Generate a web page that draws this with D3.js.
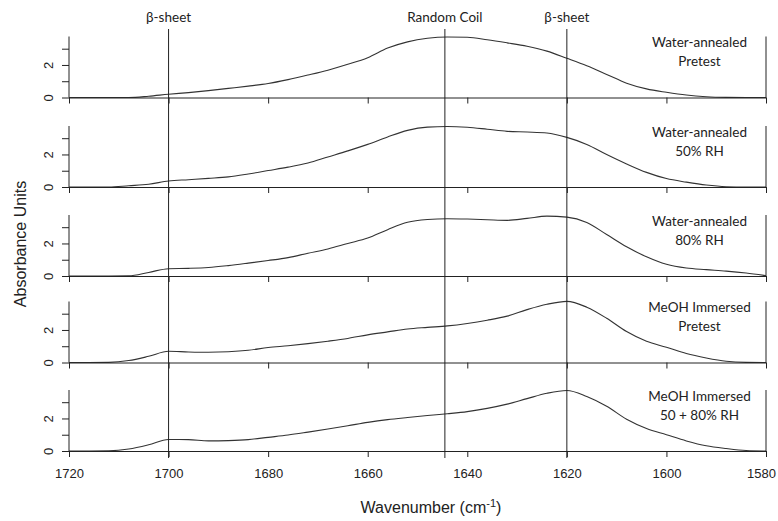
<!DOCTYPE html>
<html>
<head>
<meta charset="utf-8">
<script src="https://cdn.jsdelivr.net/npm/d3@7"></script>
<style>
  html, body { margin: 0; padding: 0; background: #fff; }
  svg { display: block; }
</style>
</head>
<body>
<svg id="chart" width="778" height="521"></svg>
<script>
// ---- data ----
const wavenumbers = [1720,1716,1712,1708,1704,1700,1696,1692,1688,1684,1680,1676,1672,1668,1664,1660,1656,1652,1648,1644,1640,1636,1632,1628,1624,1620,1616,1612,1608,1604,1600,1596,1592,1588,1584,1580];
const waterPretest = [0,0,0,0,0.08,0.2,0.30,0.42,0.56,0.70,0.86,1.10,1.38,1.68,2.04,2.45,3.04,3.42,3.64,3.72,3.70,3.55,3.36,3.15,2.85,2.41,1.95,1.42,0.88,0.53,0.32,0.15,0.05,0.01,0,0];
const water50 = [0,0,0,0.08,0.17,0.37,0.45,0.53,0.62,0.80,1.01,1.22,1.48,1.85,2.22,2.62,3.08,3.48,3.68,3.72,3.67,3.55,3.42,3.38,3.32,3.05,2.62,2.00,1.42,0.90,0.52,0.30,0.12,0.02,0,0];
const water80 = [0,0,0,0.01,0.22,0.45,0.47,0.52,0.64,0.79,0.95,1.13,1.40,1.66,2.00,2.33,2.85,3.30,3.47,3.52,3.50,3.46,3.42,3.54,3.68,3.62,3.29,2.55,1.80,1.18,0.72,0.49,0.39,0.30,0.18,0.02];
const meohPretest = [0,0,0.01,0.12,0.38,0.69,0.65,0.63,0.66,0.75,0.92,1.03,1.16,1.31,1.48,1.70,1.88,2.06,2.16,2.25,2.40,2.60,2.85,3.25,3.58,3.76,3.40,2.72,1.90,1.30,0.94,0.55,0.28,0.08,0.01,0];
const meoh5080 = [0,0,0.01,0.12,0.38,0.71,0.70,0.62,0.64,0.70,0.84,0.98,1.16,1.35,1.55,1.76,1.93,2.06,2.18,2.29,2.42,2.62,2.88,3.22,3.55,3.72,3.35,2.75,1.95,1.38,1.00,0.62,0.32,0.15,0.03,0];
const seriesValues = [waterPretest, water50, water80, meohPretest, meoh5080];
const panelLabels = [
  ["Water-annealed", "Pretest"],
  ["Water-annealed", "50% RH"],
  ["Water-annealed", "80% RH"],
  ["MeOH Immersed", "Pretest"],
  ["MeOH Immersed", "50 + 80% RH"]
];
const markerPositions = [1700, 1644.5, 1620];
const markerLabels = ["β-sheet", "Random Coil", "β-sheet"];
const xTicks = [1720, 1700, 1680, 1660, 1640, 1620, 1600, 1580];
const yTicks = [0, 1, 2, 3];
const yTickLabels = [0, 2];

// ---- layout ----
const svg = d3.select("#chart");
const ink = "#222";
const sansFont = "'Liberation Sans', Arimo, Arial, Helvetica, sans-serif";
const x = d3.scaleLinear().domain([1720, 1580]).range([69, 766]);
const baselines = [97.5, 187, 276, 362.5, 451];
const panelH = 61;
const yMax = 3.75;

const line = d3.line().curve(d3.curveMonotoneX);

seriesValues.forEach((vals, i) => {
  const y0 = baselines[i];
  const y = d3.scaleLinear().domain([0, yMax]).range([y0, y0 - panelH]);
  const g = svg.append("g");

  // curve
  const pts = wavenumbers.map((w, k) => [x(w), y(vals[k])]);
  g.append("path").attr("d", line(pts))
    .attr("fill", "none").attr("stroke", "#333").attr("stroke-width", 1.1);

  // bottom axis (ticks only, labels on the last panel)
  const last = i === seriesValues.length - 1;
  const xa = d3.axisBottom(x).tickValues(xTicks).tickSize(6).tickSizeOuter(0)
    .tickFormat(last ? d3.format("d") : "");
  const gx = g.append("g").attr("transform", `translate(0,${y0})`).call(xa)
    .attr("font-family", sansFont);
  gx.select(".domain").attr("stroke", ink);
  gx.selectAll(".tick line").attr("stroke", ink);
  gx.selectAll(".tick text").attr("fill", ink)
    .style("font-family", sansFont).style("font-size", "13px")
    .attr("y", 18)
    .attr("dx", d => d === 1580 ? -5 : 0);

  // left axis
  const ya = d3.axisLeft(y).tickValues(yTicks).tickSize(7).tickSizeOuter(0)
    .tickFormat(d => yTickLabels.includes(d) ? d : "");
  const gy = g.append("g").attr("transform", "translate(69,0)").call(ya)
    .attr("font-family", sansFont);
  gy.select(".domain").remove();
  gy.selectAll(".tick line").attr("stroke", ink);
  gy.selectAll(".tick text").attr("fill", ink)
    .style("font-family", sansFont).style("font-size", "13px")
    .attr("x", null).attr("dy", null)
    .attr("text-anchor", "middle")
    .attr("transform", "translate(-16,0) rotate(-90)");

  // left and right frame lines
  g.append("line").attr("x1", x(1720)).attr("x2", x(1720))
    .attr("y1", y(0)).attr("y2", y(yMax)).attr("stroke", ink);
  g.append("line").attr("x1", x(1580)).attr("x2", x(1580))
    .attr("y1", y(0)).attr("y2", y(yMax)).attr("stroke", ink);

  // panel label
  const t = g.append("text").attr("text-anchor", "middle").attr("fill", ink)
    .style("font-family", "Lato, 'Open Sans', sans-serif").style("font-size", "13.5px");
  t.append("tspan").attr("x", 699.5).attr("y", y0 - 50.5).text(panelLabels[i][0]);
  t.append("tspan").attr("x", 699.5).attr("y", y0 - 31.5).text(panelLabels[i][1]);
});

// vertical marker lines
markerPositions.forEach((m, k) => {
  svg.append("line").attr("x1", x(m)).attr("x2", x(m))
    .attr("y1", 29).attr("y2", 458).attr("stroke", ink).attr("stroke-width", 1);
  svg.append("text").attr("x", x(m)).attr("y", 22).attr("text-anchor", "middle")
    .attr("fill", ink)
    .style("font-family", "Lato, 'Open Sans', sans-serif").style("font-size", "13.5px")
    .text(markerLabels[k]);
});

// axis titles
svg.append("text")
  .attr("transform", "translate(26,244) rotate(-90)")
  .attr("text-anchor", "middle").attr("fill", ink)
  .style("font-family", sansFont).style("font-size", "16px")
  .text("Absorbance Units");

const xt = svg.append("text").attr("x", 431).attr("y", 513).attr("text-anchor", "middle")
  .attr("fill", ink)
  .style("font-family", sansFont).style("font-size", "16px");
xt.append("tspan").text("Wavenumber (cm");
xt.append("tspan").attr("dy", -6).style("font-size", "11px").text("-1");
xt.append("tspan").attr("dy", 6).text(")");
</script>
</body>
</html>
